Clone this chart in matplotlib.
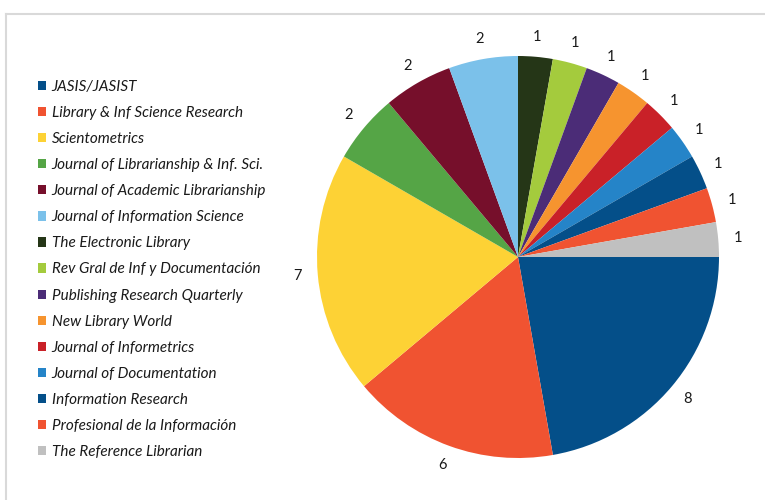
import matplotlib
matplotlib.use("Agg")
import matplotlib.pyplot as plt
from matplotlib.lines import Line2D

journals = [
    "JASIS/JASIST",
    "Library & Inf Science Research",
    "Scientometrics",
    "Journal of Librarianship & Inf. Sci.",
    "Journal of Academic Librarianship",
    "Journal of Information Science",
    "The Electronic Library",
    "Rev Gral de Inf y Documentación",
    "Publishing Research Quarterly",
    "New Library World",
    "Journal of Informetrics",
    "Journal of Documentation",
    "Information Research",
    "Profesional de la Información",
    "The Reference Librarian",
]
counts = [8, 6, 7, 2, 2, 2, 1, 1, 1, 1, 1, 1, 1, 1, 1]
colors = [
    "#044f89", "#f05331", "#fdd235", "#55a546", "#760f2b", "#7bc1ea",
    "#253617", "#a4cb3d", "#4b2c77", "#f6942f", "#c92128", "#2584c8",
    "#044f89", "#f05331", "#c0c0c0",
]

W, H = 765, 500
fig = plt.figure(figsize=(W / 100, H / 100), dpi=100)
fig.patch.set_facecolor("white")

# chart border (top and left visible)
fig.add_artist(Line2D([5.5 / W, 5.5 / W], [0, (H - 13.5) / H], color="#d9d9d9", lw=1.5,
                      transform=fig.transFigure))
fig.add_artist(Line2D([5.5 / W, 1.0], [(H - 13.5) / H, (H - 13.5) / H], color="#d9d9d9", lw=1.5,
                      transform=fig.transFigure))

cx, cy, R = 518, 257, 201
lim = 1.2
side = 2 * lim * R
ax = fig.add_axes([(cx - side / 2) / W, (H - cy - side / 2) / H, side / W, side / H])
wedges, texts = ax.pie(
    counts, colors=colors, startangle=0, counterclock=False,
    labels=[str(c) for c in counts], labeldistance=1.1,
    wedgeprops=dict(linewidth=0),
    textprops=dict(fontsize=10.5, family=["Lato", "DejaVu Sans"], color="#1a1a1a"),
)
for t in texts:
    t.set_ha("center")
    t.set_va("center")
    t.set_clip_on(False)
ax.set_xlim(-lim, lim)
ax.set_ylim(-lim, lim)
ax.set_aspect("equal")
ax.axis("off")

leg = fig.legend(
    wedges, journals, loc="upper left", bbox_to_anchor=(38 / W, 1 - 80 / H),
    frameon=False, handlelength=0.55, handleheight=0.55, handletextpad=0.35,
    labelspacing=0.79, borderpad=0, borderaxespad=0,
    prop=dict(family=["Lato", "DejaVu Sans"], style="italic", size=11),
)
for txt in leg.get_texts():
    txt.set_color("#1a1a1a")

fig.savefig("out.png", dpi=100, facecolor="white")
